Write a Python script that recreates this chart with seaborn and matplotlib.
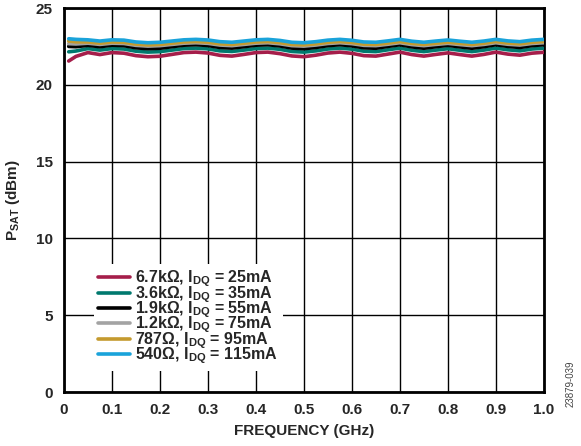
import matplotlib
matplotlib.use("Agg")
import matplotlib.pyplot as plt
import seaborn as sns
import pandas as pd

freq = [0.01, 0.025, 0.05, 0.075, 0.1, 0.125, 0.15, 0.175, 0.2, 0.225, 0.25, 0.275, 0.3, 0.325,
        0.35, 0.375, 0.4, 0.425, 0.45, 0.475, 0.5, 0.525, 0.55, 0.575, 0.6, 0.625, 0.65, 0.675,
        0.7, 0.725, 0.75, 0.775, 0.8, 0.825, 0.85, 0.875, 0.9, 0.925, 0.95, 0.975, 1.0]

psat_6k7 = [21.55, 21.85, 22.1, 21.97, 22.1, 22.06, 21.9, 21.83, 21.86, 21.98, 22.1, 22.13, 22.07, 21.92,
            21.87, 21.98, 22.1, 22.13, 22.03, 21.88, 21.83, 21.93, 22.07, 22.13, 22.05, 21.9, 21.87, 22.0,
            22.13, 21.97, 21.87, 21.98, 22.08, 21.97, 21.87, 21.98, 22.13, 22.0, 21.93, 22.06, 22.12]
psat_3k6 = [22.15, 22.2, 22.36, 22.26, 22.36, 22.33, 22.19, 22.13, 22.16, 22.26, 22.36, 22.39, 22.34, 22.21,
            22.17, 22.26, 22.36, 22.39, 22.31, 22.17, 22.13, 22.21, 22.33, 22.39, 22.32, 22.19, 22.16, 22.28,
            22.39, 22.25, 22.16, 22.26, 22.35, 22.25, 22.16, 22.26, 22.39, 22.28, 22.21, 22.33, 22.39]
psat_1k9 = [22.5, 22.48, 22.57, 22.48, 22.58, 22.55, 22.41, 22.35, 22.38, 22.48, 22.58, 22.61, 22.56, 22.43,
            22.39, 22.48, 22.58, 22.61, 22.53, 22.39, 22.35, 22.43, 22.55, 22.61, 22.54, 22.41, 22.38, 22.5,
            22.61, 22.47, 22.38, 22.48, 22.57, 22.47, 22.38, 22.48, 22.61, 22.5, 22.43, 22.55, 22.61]
psat_1k2 = [22.68, 22.66, 22.71, 22.63, 22.71, 22.69, 22.57, 22.52, 22.55, 22.63, 22.71, 22.74, 22.7, 22.59,
            22.55, 22.63, 22.71, 22.74, 22.67, 22.55, 22.52, 22.59, 22.69, 22.74, 22.68, 22.57, 22.55, 22.64,
            22.74, 22.62, 22.55, 22.63, 22.7, 22.62, 22.55, 22.63, 22.74, 22.64, 22.59, 22.69, 22.74]
psat_787 = [22.85, 22.8, 22.79, 22.71, 22.79, 22.77, 22.65, 22.6, 22.63, 22.71, 22.79, 22.82, 22.78, 22.67,
            22.63, 22.71, 22.79, 22.82, 22.75, 22.63, 22.6, 22.67, 22.77, 22.82, 22.76, 22.65, 22.63, 22.72,
            22.82, 22.7, 22.63, 22.71, 22.78, 22.7, 22.63, 22.71, 22.82, 22.72, 22.67, 22.77, 22.82]
psat_540 = [23.0, 22.96, 22.93, 22.85, 22.93, 22.91, 22.79, 22.74, 22.77, 22.85, 22.93, 22.96, 22.92, 22.81,
            22.77, 22.85, 22.93, 22.96, 22.89, 22.77, 22.74, 22.81, 22.91, 22.96, 22.9, 22.79, 22.77, 22.86,
            22.96, 22.84, 22.77, 22.85, 22.92, 22.84, 22.77, 22.85, 22.96, 22.86, 22.81, 22.91, 22.96]

labels = [r"6.7kΩ, I$_{\mathrm{DQ}}$ = 25mA",
          r"3.6kΩ, I$_{\mathrm{DQ}}$ = 35mA",
          r"1.9kΩ, I$_{\mathrm{DQ}}$ = 55mA",
          r"1.2kΩ, I$_{\mathrm{DQ}}$ = 75mA",
          r"787Ω, I$_{\mathrm{DQ}}$ = 95mA",
          r"540Ω, I$_{\mathrm{DQ}}$ = 115mA"]
colors = ["#A51E4A", "#00796E", "#000000", "#A3A3A3", "#C49A2E", "#1AA3DA"]
series = [psat_6k7, psat_3k6, psat_1k9, psat_1k2, psat_787, psat_540]

xticks = [0, 0.1, 0.2, 0.3, 0.4, 0.5, 0.6, 0.7, 0.8, 0.9, 1.0]
xticklabels = ["0", "0.1", "0.2", "0.3", "0.4", "0.5", "0.6", "0.7", "0.8", "0.9", "1.0"]
yticks = [0, 5, 10, 15, 20, 25]

sns.set_style("white")
plt.rcParams["font.family"] = ["Liberation Sans", "DejaVu Sans"]
plt.rcParams["font.weight"] = "bold"
plt.rcParams["mathtext.fontset"] = "custom"
plt.rcParams["mathtext.rm"] = "Liberation Sans:bold"
plt.rcParams["mathtext.it"] = "Liberation Sans:bold"
plt.rcParams["mathtext.bf"] = "Liberation Sans:bold"

rows = []
for lab, vals in zip(labels, series):
    for f, v in zip(freq, vals):
        rows.append({"freq": f, "psat": v, "cond": lab})
df = pd.DataFrame(rows)

fig = plt.figure(figsize=(5.81, 4.46), dpi=100)
ax = fig.add_axes([0.110, 0.121, 0.826, 0.861])

sns.lineplot(data=df, x="freq", y="psat", hue="cond", hue_order=labels,
             palette=colors, linewidth=2.6, ax=ax, legend=True, zorder=3)

ax.set_xlim(0, 1.0)
ax.set_ylim(0, 25)
ax.set_xticks(xticks)
ax.set_xticklabels(xticklabels)
ax.set_yticks(yticks)
ax.grid(True, color="black", linewidth=1.0, zorder=0)
ax.set_axisbelow(True)
for sp in ax.spines.values():
    sp.set_linewidth(2.0)
    sp.set_color("black")
    sp.set_visible(True)
ax.tick_params(axis="both", length=0, labelsize=11, pad=8)
for t in ax.get_xticklabels() + ax.get_yticklabels():
    t.set_fontweight("bold")

ax.set_xlabel("FREQUENCY (GHz)", fontsize=11, fontweight="bold", labelpad=5)
ax.set_ylabel(r"P$_{\mathrm{SAT}}$ (dBm)", fontsize=11, fontweight="bold", labelpad=10)

leg = ax.legend(loc="lower left", bbox_to_anchor=(0.062, 0.055), frameon=True,
                fontsize=11.5, handlelength=2.0, handletextpad=0.3, labelspacing=-0.33,
                borderpad=0.3, borderaxespad=0.0)
leg.get_frame().set_facecolor("white")
leg.get_frame().set_edgecolor("none")
leg.get_frame().set_alpha(1.0)
leg.get_frame().set_boxstyle("square", pad=0.0)
for line in leg.get_lines():
    line.set_linewidth(2.6)
for t in leg.get_texts():
    t.set_fontweight("bold")

fig.text(0.982, 0.14, "23879-039", rotation=90, fontsize=7, color="#444444",
         ha="center", va="center", fontweight="normal")

fig.savefig("out.png", dpi=100)
